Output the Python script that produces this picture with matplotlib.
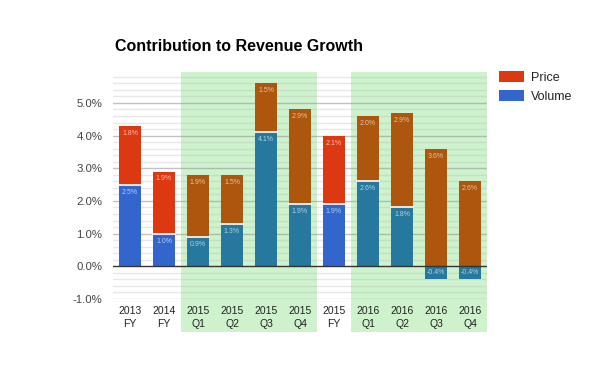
import matplotlib
matplotlib.use("Agg")
import matplotlib.pyplot as plt
from matplotlib.patches import Patch
import numpy as np

plt.rcParams['font.family'] = ['Liberation Sans', 'DejaVu Sans']

categories = ["2013\nFY", "2014\nFY", "2015\nQ1", "2015\nQ2", "2015\nQ3", "2015\nQ4",
              "2015\nFY", "2016\nQ1", "2016\nQ2", "2016\nQ3", "2016\nQ4"]
volume = [2.5, 1.0, 0.9, 1.3, 4.1, 1.9, 1.9, 2.6, 1.8, -0.4, -0.4]
price = [1.8, 1.9, 1.9, 1.5, 1.5, 2.9, 2.1, 2.0, 2.9, 3.6, 2.6]
is_fy = [True, True, False, False, False, False, True, False, False, False, False]
y_ticks = [-1.0, 0.0, 1.0, 2.0, 3.0, 4.0, 5.0]

FY_PRICE = "#DC3912"
FY_VOL = "#3366CC"
Q_PRICE = "#AD560E"
Q_VOL = "#27789F"
GREEN = "#CDF2CC"

fig = plt.figure(figsize=(6.0, 3.71), dpi=100)
ax = fig.add_axes([113/600, 1-299/371, 374/600, (299-72.5)/371])

n = len(categories)
x = np.arange(n)
ax.set_xlim(-0.5, n-0.5)
ax.set_ylim(-1.0, 5.93)

# green shading for quarterly spans (extends below axis through labels)
trans = ax.get_xaxis_transform()
for start, end in [(1.5, 5.5), (6.5, 10.5)]:
    ax.add_patch(plt.Rectangle((start, -0.147), end-start, 1.147, transform=trans,
                               facecolor=GREEN, edgecolor='none', zorder=0, clip_on=False))

# gridlines
for v in np.arange(-1.0, 5.81, 0.2):
    v = round(v, 1)
    if abs(v) < 1e-9:
        continue
    major = abs(v - round(v)) < 1e-9
    ax.axhline(v, color="#999999" if major else "#bbbbbb",
               alpha=0.6 if major else 0.35, lw=1.0, zorder=1)
ax.axhline(0, color="#333333", lw=1.0, zorder=4)

w = 0.62
for i in range(n):
    pc = FY_PRICE if is_fy[i] else Q_PRICE
    vc = FY_VOL if is_fy[i] else Q_VOL
    v = volume[i]
    p = price[i]
    ax.bar(x[i], v, width=w, color=vc, zorder=2, edgecolor='none')
    pb = v if v > 0 else 0
    ax.bar(x[i], p, bottom=pb, width=w, color=pc, zorder=2, edgecolor='none')
    if v > 0:
        ax.plot([x[i]-w/2, x[i]+w/2], [v, v], color='white', lw=1.2, zorder=3)
    # labels
    lab_c = (1, 1, 1, 0.65)
    ax.text(x[i], pb + p - 0.12, f"{p:.1f}%", ha='center', va='top',
            fontsize=5, color=lab_c, zorder=5)
    if v > 0:
        ax.text(x[i], v - 0.12, f"{v:.1f}%", ha='center', va='top',
                fontsize=5, color=lab_c, zorder=5)
    else:
        ax.text(x[i], -0.07, f"{v:.1f}%", ha='center', va='top',
                fontsize=5, color=lab_c, zorder=5)

ax.set_xticks(x)
ax.set_xticklabels(categories, fontsize=7.5, color="#222222", linespacing=1.35)
ax.set_yticks(y_ticks)
ax.set_yticklabels([f"{t:.1f}%" for t in y_ticks], fontsize=8.2, color="#444444")
ax.tick_params(axis='both', length=0, pad=7.5)
ax.tick_params(axis='x', pad=5)
for s in ax.spines.values():
    s.set_visible(False)

fig.text(115/600, 1-51/371, "Contribution to Revenue Growth", fontsize=11.5,
         fontweight='bold', color="#000000", ha='left', va='baseline')

handles = [Patch(facecolor=FY_PRICE, label="Price"), Patch(facecolor=FY_VOL, label="Volume")]
fig.legend(handles=handles, loc='upper left', bbox_to_anchor=(488/600, 1-60/371),
           frameon=False, fontsize=9, handlelength=2.0, handleheight=1.0,
           handletextpad=0.5, labelspacing=0.45, labelcolor="#222222")

fig.savefig("out.png", dpi=100, facecolor='white')
